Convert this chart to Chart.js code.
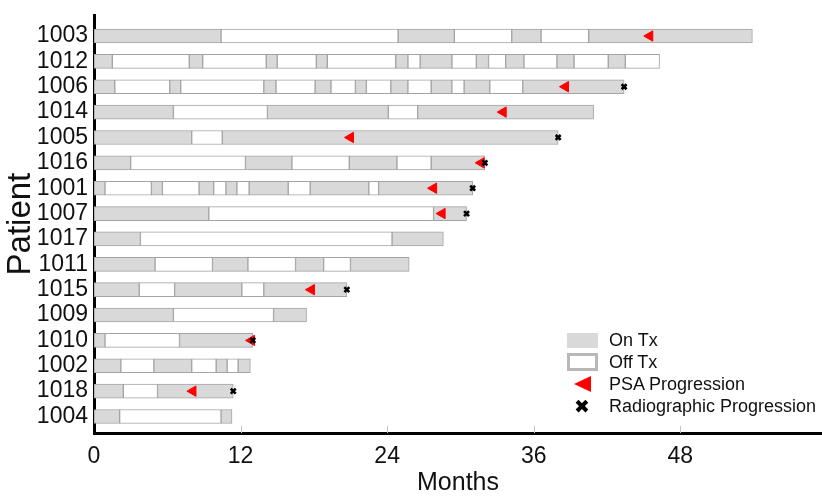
<!DOCTYPE html>
<html>
<head>
<meta charset="utf-8">
<script src="https://cdn.jsdelivr.net/npm/chart.js@4.4.1/dist/chart.umd.min.js"></script>
<style>
  html, body { margin: 0; padding: 0; background: #fff; }
  #wrap { position: relative; width: 822px; height: 496px; }
  #legend { position: absolute; left: 566px; top: 329px; font-family: "Liberation Sans", Arial, sans-serif; font-size: 18px; color: #111; }
  #legend .row { height: 22px; display: flex; align-items: center; }
  #legend .icon { width: 32px; height: 22px; display: flex; align-items: center; justify-content: center; margin-right: 11px; }
  .on { width: 31px; height: 15px; background: #d9d9d9; }
  .off { width: 25px; height: 12px; background: #fff; border: 3px solid #b8b8b8; }
  .tri { width: 0; height: 0; border-top: 8px solid transparent; border-bottom: 8px solid transparent; border-right: 17px solid #ff0000; }
  .xm { font-family: "DejaVu Sans", sans-serif; font-size: 19px; font-weight: bold; color: #000; line-height: 22px; }
</style>
</head>
<body>
<div id="wrap">
  <canvas id="swimmer" width="822" height="496"></canvas>
  <div id="legend">
    <div class="row"><div class="icon"><div class="on"></div></div>On Tx</div>
    <div class="row"><div class="icon"><div class="off"></div></div>Off Tx</div>
    <div class="row"><div class="icon"><div class="tri"></div></div>PSA Progression</div>
    <div class="row"><div class="icon"><span class="xm">&#x2716;</span></div>Radiographic Progression</div>
  </div>
</div>
<script>
// Patients, top to bottom
const patients = ['1003', '1012', '1006', '1014', '1005', '1016', '1001', '1007',
                  '1017', '1011', '1015', '1009', '1010', '1002', '1018', '1004'];

// Segment boundaries in months; segments alternate On Tx / Off Tx starting with On Tx
const boundaries = [
  [0, 10.4, 24.9, 29.5, 34.2, 36.6, 40.5, 53.9],
  [0, 1.5, 7.8, 8.9, 14.1, 15.0, 18.2, 19.1, 24.7, 25.7, 26.7, 29.3, 31.3, 32.3, 33.7, 35.2, 37.9, 39.3, 42.1, 43.5, 46.3],
  [0, 1.7, 6.2, 7.1, 13.9, 14.9, 18.1, 19.4, 21.4, 22.3, 24.3, 25.7, 27.6, 29.3, 30.3, 32.4, 35.1, 43.4],
  [0, 6.5, 14.2, 24.1, 26.5, 40.9],
  [0, 8.0, 10.5, 38.0],
  [0, 3.0, 12.4, 16.2, 20.9, 24.8, 27.6, 32.0],
  [0, 0.9, 4.7, 5.6, 8.6, 9.8, 10.8, 11.7, 12.7, 15.9, 17.7, 22.5, 23.3, 31.0],
  [0, 9.4, 27.8, 30.5],
  [0, 3.8, 24.4, 28.6],
  [0, 5.0, 9.7, 12.6, 16.5, 18.8, 21.0, 25.8],
  [0, 3.7, 6.6, 12.1, 13.9, 20.7],
  [0, 6.5, 14.7, 17.4],
  [0, 0.9, 7.0, 13.0],
  [0, 2.2, 4.9, 8.0, 10.0, 10.9, 11.8, 12.8],
  [0, 2.4, 5.2, 11.4],
  [0, 2.1, 10.4, 11.3]
];

// PSA progression (months), by patient
const psaPatients = ['1003', '1006', '1014', '1005', '1016', '1001', '1007', '1015', '1010', '1018'];
const psaMonths   = [45.5, 38.6, 33.5, 21.0, 31.7, 27.8, 28.5, 17.8, 12.9, 8.1];

// Radiographic progression (months), by patient
const radPatients = ['1006', '1005', '1016', '1001', '1007', '1015', '1010', '1018'];
const radMonths   = [43.4, 38.0, 32.0, 31.0, 30.5, 20.7, 13.0, 11.4];

const xTicks = [0, 12, 24, 36, 48];

const ON_COLOR = '#d9d9d9';
const OFF_COLOR = '#ffffff';
const EDGE_COLOR = '#a4a4a4';

// one bar dataset per segment position
const maxSegs = Math.max(...boundaries.map(b => b.length - 1));
const datasets = [];
for (let k = 0; k < maxSegs; k++) {
  const segs = [];
  boundaries.forEach((b, i) => {
    if (k + 1 < b.length) segs.push({ x: [b[k], b[k + 1]], y: i });
  });
  datasets.push({
    type: 'bar',
    data: segs,
    backgroundColor: k % 2 === 0 ? ON_COLOR : OFF_COLOR,
    borderColor: EDGE_COLOR,
    borderWidth: 1,
    borderSkipped: false,
    barThickness: 14,
    grouped: false,
    order: 3
  });
}

datasets.push({
  type: 'line',
  showLine: false,
  data: psaPatients.map((p, i) => ({ x: psaMonths[i], y: patients.indexOf(p) })),
  pointStyle: 'triangle',
  rotation: 270,
  radius: 6,
  backgroundColor: '#ff0000',
  borderColor: '#ff0000',
  borderWidth: 1,
  order: 2
});

datasets.push({
  type: 'line',
  showLine: false,
  data: radPatients.map((p, i) => ({ x: radMonths[i], y: patients.indexOf(p) })),
  pointStyle: 'crossRot',
  radius: 3.5,
  borderColor: '#000000',
  borderWidth: 2.6,
  order: 1
});

// small inward tick marks on the month axis
const innerTicks = {
  id: 'innerTicks',
  beforeDatasetsDraw(chart) {
    const { ctx, chartArea, scales } = chart;
    ctx.save();
    ctx.strokeStyle = '#c4c4c4';
    ctx.lineWidth = 1;
    xTicks.slice(1).forEach(v => {
      const px = Math.round(scales.x.getPixelForValue(v)) + 0.5;
      ctx.beginPath();
      ctx.moveTo(px, chartArea.bottom - 7);
      ctx.lineTo(px, chartArea.bottom);
      ctx.stroke();
    });
    ctx.restore();
  }
};

const font = "'Liberation Sans', Arial, sans-serif";

new Chart(document.getElementById('swimmer').getContext('2d'), {
  data: { datasets: datasets },
  plugins: [innerTicks],
  options: {
    indexAxis: 'y',
    responsive: false,
    animation: false,
    layout: { autoPadding: false, padding: { top: 12, right: 0, left: 0, bottom: 0 } },
    plugins: {
      legend: { display: false },
      tooltip: { enabled: false }
    },
    scales: {
      x: {
        type: 'linear',
        bounds: 'data',
        offset: false,
        min: 0,
        max: 59.6,
        afterBuildTicks: (scale) => { scale.ticks = xTicks.map(v => ({ value: v })); },
        afterFit: (scale) => { scale.height = 63; },
        grid: { display: false, drawTicks: false },
        border: { display: true, color: '#000', width: 3 },
        ticks: { color: '#111', font: { family: font, size: 23 }, padding: 10, maxRotation: 0, autoSkip: false },
        title: { display: true, text: 'Months', color: '#111', font: { family: font, size: 25, lineHeight: 1 }, padding: 0 }
      },
      y: {
        type: 'linear',
        bounds: 'data',
        offset: false,
        reverse: true,
        min: -0.82,
        max: 15.65,
        afterBuildTicks: (scale) => { scale.ticks = patients.map((p, i) => ({ value: i })); },
        afterFit: (scale) => { scale.width = 94; },
        grid: { display: false, drawTicks: false },
        border: { display: true, color: '#000', width: 3 },
        ticks: { color: '#111', font: { family: font, size: 23, lineHeight: 0.8 }, padding: 6, autoSkip: false, callback: (v) => patients[v] },
        title: { display: true, text: 'Patient', color: '#111', font: { family: font, size: 33, lineHeight: 1 }, padding: 4 }
      }
    }
  }
});
</script>
</body>
</html>
